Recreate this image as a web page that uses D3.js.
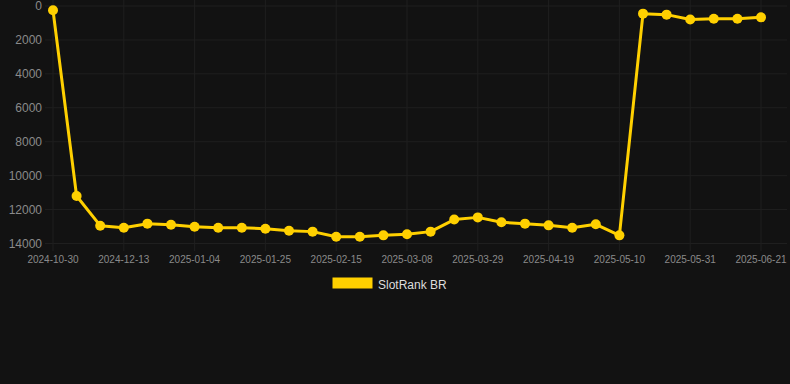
<!DOCTYPE html>
<html><head><meta charset="utf-8">
<script src="https://cdn.jsdelivr.net/npm/d3@7/dist/d3.min.js"></script>
<style>html,body{margin:0;padding:0;background:#121212;}svg{display:block;}</style>
</head><body>
<svg id="c" width="790" height="384"></svg>
<script>
const dates = ["2024-10-30","2024-11-13","2024-11-29","2024-12-13","2024-12-20","2024-12-27","2025-01-04","2025-01-11","2025-01-18","2025-01-25","2025-02-01","2025-02-08","2025-02-15","2025-02-22","2025-03-01","2025-03-08","2025-03-15","2025-03-22","2025-03-29","2025-04-05","2025-04-12","2025-04-19","2025-04-26","2025-05-03","2025-05-10","2025-05-17","2025-05-24","2025-05-31","2025-06-07","2025-06-14","2025-06-21"];
const ranks = [250,11200,12950,13070,12830,12890,13010,13070,13070,13130,13250,13300,13600,13600,13520,13460,13300,12590,12460,12750,12830,12930,13070,12870,13520,450,510,800,750,750,670];
const yTicks = [0,2000,4000,6000,8000,10000,12000,14000];
const xTickLabels = ["2024-10-30","2024-12-13","2025-01-04","2025-01-25","2025-02-15","2025-03-08","2025-03-29","2025-04-19","2025-05-10","2025-05-31","2025-06-21"];
const seriesName = "SlotRank BR";

const svg = d3.select("#c");
const x = d3.scalePoint().domain(dates).range([53, 761]);
const y = d3.scaleLinear().domain([0, 14000]).range([6, 243.5]);
const gridColor = "#1f1f1f";
const lineColor = "#FFD000";

// horizontal grid
svg.append("g").selectAll("line").data(yTicks).join("line")
  .attr("x1", 45).attr("x2", 787)
  .attr("y1", d => y(d)).attr("y2", d => y(d))
  .attr("stroke", gridColor).attr("stroke-width", 1);
// vertical grid
svg.append("g").selectAll("line").data(xTickLabels).join("line")
  .attr("x1", d => x(d)).attr("x2", d => x(d))
  .attr("y1", 0).attr("y2", 251)
  .attr("stroke", gridColor).attr("stroke-width", 1);

// y labels
svg.append("g").selectAll("text").data(yTicks).join("text")
  .attr("x", 42).attr("y", d => y(d)).attr("dy", "0.35em")
  .attr("text-anchor", "end")
  .attr("font-family", "Liberation Sans, Arial, sans-serif")
  .attr("font-size", 12).attr("fill", "#8a8a8a")
  .text(d => d);
// x labels
svg.append("g").selectAll("text").data(xTickLabels).join("text")
  .attr("x", d => x(d)).attr("y", 263)
  .attr("text-anchor", "middle")
  .attr("font-family", "Liberation Sans, Arial, sans-serif")
  .attr("font-size", 10).attr("fill", "#8a8a8a")
  .text(d => d);

// line
const line = d3.line().x((d, i) => x(dates[i])).y(d => y(d));
svg.append("path").datum(ranks)
  .attr("d", line).attr("fill", "none")
  .attr("stroke", lineColor).attr("stroke-width", 3)
  .attr("stroke-linejoin", "round");
svg.append("g").selectAll("circle").data(ranks).join("circle")
  .attr("cx", (d, i) => x(dates[i])).attr("cy", d => y(d))
  .attr("r", 5).attr("fill", lineColor);

// legend
const lg = svg.append("g");
lg.append("rect").attr("x", 332.5).attr("y", 277.5).attr("width", 40).attr("height", 11)
  .attr("fill", lineColor);
lg.append("text").attr("x", 378).attr("y", 285).attr("dy", "0.35em")
  .attr("font-family", "Liberation Sans, Arial, sans-serif")
  .attr("font-size", 12).attr("fill", "#dddddd")
  .text(seriesName);
</script>
</body></html>
